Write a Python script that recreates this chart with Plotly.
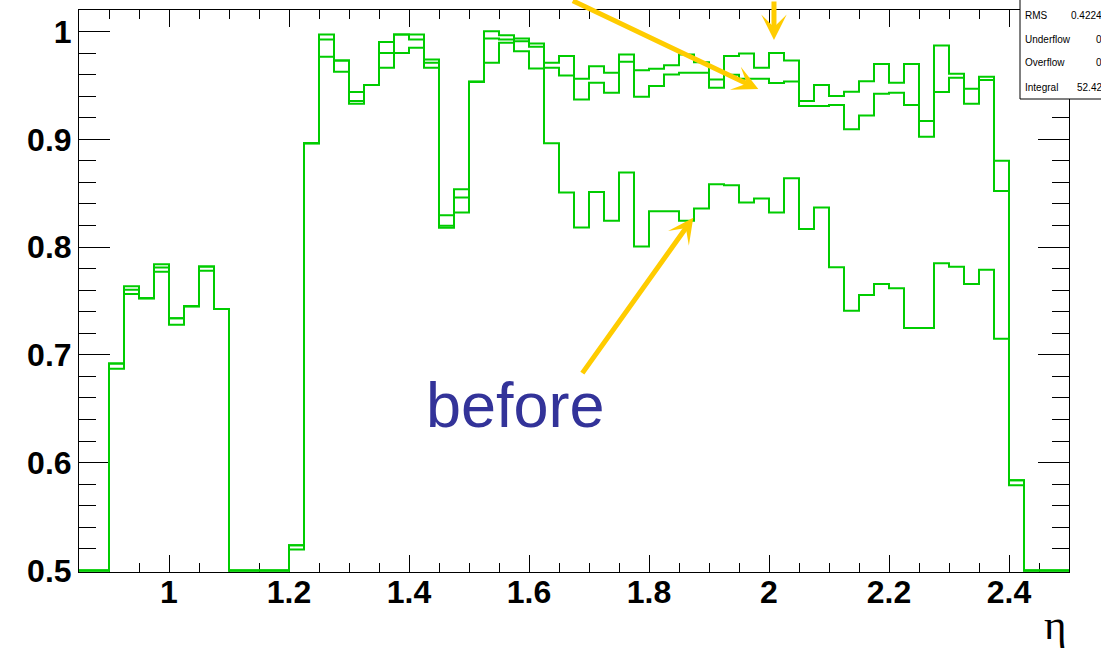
import numpy as np
import plotly.graph_objects as go

# ---------------- data ----------------
ETA_MIN, ETA_MAX, N_BINS = 0.85, 2.5, 66
Y_MIN, Y_MAX = 0.5, 1.02
eta_edges = np.linspace(ETA_MIN, ETA_MAX, N_BINS + 1)

eff_after_1 = [
    0, 0, 0.692, 0.7636, 0.7525, 0.784, 0.734, 0.745, 0.782, 0.7425,
    0, 0, 0, 0, 0.5234, 0.8963, 0.9972, 0.9731, 0.9438, 0.9503,
    0.9904, 0.9972, 0.9972, 0.9741, 0.8296, 0.8537, 0.9534, 1.0003, 0.9966, 0.9935,
    0.9889, 0.971, 0.9772, 0.9562, 0.9679, 0.9617, 0.9787, 0.9642, 0.9654, 0.9688,
    0.9787, 0.9716, 0.9556, 0.9772, 0.9796, 0.9664, 0.9802, 0.9731, 0.9355, 0.9503,
    0.9401, 0.9442, 0.954, 0.970, 0.9525, 0.970, 0.917, 0.987, 0.9608, 0.9469,
    0.958, 0.880, 0.5836, 0, 0, 0,
]
eff_after_2 = [
    0, 0, 0.692, 0.7605, 0.7525, 0.781, 0.734, 0.745, 0.782, 0.7425,
    0, 0, 0, 0, 0.5234, 0.8963, 0.9926, 0.9731, 0.9355, 0.9503,
    0.9802, 0.9972, 0.9926, 0.971, 0.8197, 0.846, 0.9534, 0.9935, 0.9926, 0.991,
    0.9858, 0.9664, 0.9593, 0.937, 0.9525, 0.9432, 0.972, 0.9395, 0.9494, 0.9602,
    0.9617, 0.9617, 0.9479, 0.960, 0.9562, 0.9562, 0.9522, 0.9537, 0.9309, 0.9309,
    0.9318, 0.9093, 0.9222, 0.9423, 0.9432, 0.9318, 0.9025, 0.9438, 0.9571, 0.933,
    0.955, 0.852, 0.5836, 0, 0, 0,
]
eff_before = [
    0, 0, 0.687, 0.7565, 0.7525, 0.777, 0.728, 0.745, 0.778, 0.7425,
    0, 0, 0, 0, 0.5194, 0.8963, 0.9766, 0.9627, 0.933, 0.9503,
    0.9664, 0.9802, 0.9849, 0.9664, 0.818, 0.832, 0.9534, 0.971, 0.9895, 0.9818,
    0.9657, 0.8963, 0.8506, 0.8182, 0.8512, 0.8244, 0.8692, 0.8006, 0.8333, 0.8333,
    0.8244, 0.8358, 0.8583, 0.8574, 0.8414, 0.845, 0.8321, 0.8639, 0.8167, 0.8367,
    0.7812, 0.741, 0.7556, 0.7657, 0.7617, 0.725, 0.725, 0.7849, 0.7818, 0.7657,
    0.779, 0.715, 0.579, 0, 0, 0,
]

x_tick_vals = [1.0, 1.2, 1.4, 1.6, 1.8, 2.0, 2.2, 2.4]
x_tick_text = ["1", "1.2", "1.4", "1.6", "1.8", "2", "2.2", "2.4"]
y_tick_vals = [0.5, 0.6, 0.7, 0.8, 0.9, 1.0]
y_tick_text = ["0.5", "0.6", "0.7", "0.8", "0.9", "1"]

stat_labels = ["RMS", "Underflow", "Overflow", "Integral"]
stat_values = ["0.4224", "0", "0", "52.42"]

# ---------------- style ----------------
GREEN = "#00cc00"
ARROW = "#ffcc00"
TEXT_BLUE = "#333399"
W, H = 1101, 650
ML, MR, MT, MB = 79, 32, 10, 78
PW, PH = W - ML - MR, H - MT - MB
Y_AXIS_LOW = 0.4985  # tiny extra room so histogram lines at the floor stay visible

fig = go.Figure()
for vals in (eff_before, eff_after_2, eff_after_1):
    y = np.maximum(np.append(vals, vals[-1]), Y_MIN)
    fig.add_trace(go.Scatter(
        x=eta_edges, y=y, mode="lines", line_shape="hv",
        line=dict(color=GREEN, width=2), hoverinfo="skip", showlegend=False,
    ))

tick_font = dict(family="Liberation Sans, Arial, sans-serif", size=32,
                 color="black", weight="bold")

fig.update_xaxes(
    range=[ETA_MIN, ETA_MAX], showgrid=False, zeroline=False,
    showline=True, linecolor="black", linewidth=1, mirror="allticks",
    ticks="inside", ticklen=17, tickwidth=1, tickcolor="black",
    tickmode="array", tickvals=x_tick_vals, ticktext=x_tick_text,
    tickfont=tick_font, layer="below traces", ticklabelstandoff=-8,
    minor=dict(tickmode="linear", tick0=0, dtick=0.05, ticks="inside",
               ticklen=9, tickwidth=1, tickcolor="black", showgrid=False),
)
fig.update_yaxes(
    range=[Y_AXIS_LOW, Y_MAX], showgrid=False, zeroline=False,
    showline=True, linecolor="black", linewidth=1, mirror="allticks",
    ticks="inside", ticklen=31, tickwidth=1, tickcolor="black",
    tickmode="array", tickvals=y_tick_vals, ticktext=y_tick_text,
    tickfont=tick_font, layer="below traces",
    minor=dict(tickmode="linear", tick0=0, dtick=0.02, ticks="inside",
               ticklen=17, tickwidth=1, tickcolor="black", showgrid=False),
)

def px_to_paper_x(px):
    return (px - ML) / PW

def px_to_paper_y(py):
    return (H - MB - py) / PH

annotations = []
# arrows (head in data coords, tail offset in pixels; tails sit at the top edge)
arrow_specs = [
    (1.9822, 0.9466, -187, -89),
    (2.0083, 0.9922, 0, -40),
    (1.8738, 0.8273, -112, 157),
]
for hx, hy, ax, ay in arrow_specs:
    annotations.append(dict(
        x=hx, y=hy, xref="x", yref="y", ax=ax, ay=ay, text="",
        showarrow=True, arrowhead=3, arrowsize=0.85, arrowwidth=5,
        arrowcolor=ARROW,
    ))

annotations.append(dict(
    x=1.5783, y=0.6536, xref="x", yref="y", text="before", showarrow=False,
    font=dict(family="Liberation Sans, Arial, sans-serif", size=63, color=TEXT_BLUE),
    xanchor="center", yanchor="middle",
))

# axis title
annotations.append(dict(
    x=1.0, y=px_to_paper_y(624), xref="paper", yref="paper", text="η",
    showarrow=False, xanchor="right", yanchor="middle",
    font=dict(family="Liberation Serif, Times New Roman, serif", size=43, color="black"),
))

# stat box text
row_y = [15.7, 39.3, 62.7, 87.3]
for lab, val, ry in zip(stat_labels, stat_values, row_y):
    annotations.append(dict(
        x=px_to_paper_x(1023), y=px_to_paper_y(ry), xref="paper", yref="paper",
        text=lab, showarrow=False, xanchor="left", yanchor="middle",
        font=dict(family="Liberation Sans, Arial, sans-serif", size=10, color="black"),
    ))
    annotations.append(dict(
        x=px_to_paper_x(1104), y=px_to_paper_y(ry), xref="paper", yref="paper",
        text=val, showarrow=False, xanchor="right", yanchor="middle",
        font=dict(family="Liberation Sans, Arial, sans-serif", size=10, color="black"),
    ))

shapes = [dict(
    type="rect", xref="paper", yref="paper", layer="above",
    x0=px_to_paper_x(1020), x1=px_to_paper_x(1140),
    y0=px_to_paper_y(99), y1=px_to_paper_y(-40),
    fillcolor="white", line=dict(color="black", width=1),
)]

fig.update_layout(
    width=W, height=H, margin=dict(l=ML, r=MR, t=MT, b=MB, pad=0),
    paper_bgcolor="white", plot_bgcolor="white", showlegend=False,
    annotations=annotations, shapes=shapes,
)

fig.write_html("out.html")
